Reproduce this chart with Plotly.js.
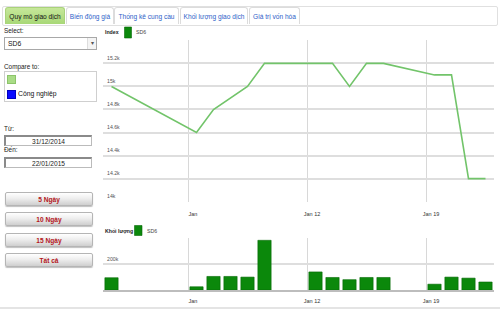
<!DOCTYPE html>
<html>
<head>
<meta charset="utf-8">
<script src="https://cdn.plot.ly/plotly-3.0.1.min.js"></script>
<style>
  html, body { margin:0; padding:0; background:#fff; }
  body { width:500px; height:312px; position:relative; overflow:hidden; font-family:"Liberation Sans", Arial, sans-serif; }
  #chart { position:absolute; left:0; top:0; width:500px; height:312px; }
  .ov { position:absolute; z-index:2; }
  #tabbar { left:2px; top:6px; width:494px; height:18px; border:1px solid #e0e0e0; border-radius:2px; background:#fff; }
  .tab { position:absolute; top:7px; height:17px; line-height:17px; font-size:6.6px; text-align:center; color:#2d62c8;
         border:1px solid #dcdcdc; border-bottom:none; border-radius:3px 3px 0 0; background:#fff; box-sizing:border-box; white-space:nowrap; }
  .tab.active { color:#111; background:linear-gradient(#c6e79a, #a8d877); border-color:#a9d27a; }
  .lbl { font-size:6.4px; color:#222; white-space:nowrap; }
  .box { border:1px solid #a8a8a8; background:#fff; box-sizing:border-box; }
  .datebox { border:1px solid #bbb; border-top:2px solid #8a8a8a; border-left:2px solid #8a8a8a; background:#fff; box-sizing:border-box;
             font-size:6.6px; text-align:center; color:#222; }
  .btn { left:5px; width:88px; height:14px; line-height:14px; border:1px solid #b5b5b5; border-radius:2px; box-sizing:border-box;
         background:linear-gradient(#ffffff, #eeeeee 45%, #cfcfcf); box-shadow:0 1px 1px rgba(0,0,0,0.25);
         text-align:center; font-size:6.6px; font-weight:bold; color:#b3161b; }
  #bottomline { left:0; top:307px; width:500px; height:2px; background:#e4e4e4; }
</style>
</head>
<body>
<div id="chart"></div>

<div class="ov" id="tabbar"></div>
<div class="ov tab active" style="left:5px;width:60px;">Quy mô giao dịch</div>
<div class="ov tab" style="left:66px;width:48px;">Biến động giá</div>
<div class="ov tab" style="left:114px;width:65px;">Thống kê cung cầu</div>
<div class="ov tab" style="left:180px;width:68px;">Khối lượng giao dịch</div>
<div class="ov tab" style="left:249px;width:51px;">Giá trị vốn hóa</div>

<div class="ov lbl" style="left:4px;top:27px;">Select:</div>
<div class="ov box" style="left:4px;top:37px;width:93px;height:13px;">
  <span style="position:absolute;left:3px;top:2px;font-size:6.8px;color:#111;">SD6</span>
  <span style="position:absolute;right:0px;top:0px;width:8px;height:11px;border-left:1px solid #ddd;background:#f4f4f4;font-size:6px;line-height:11px;text-align:center;color:#555;">&#9662;</span>
</div>
<div class="ov lbl" style="left:4px;top:63px;">Compare to:</div>
<div class="ov box" style="left:4px;top:71px;width:93px;height:31px;border-color:#cfcfcf;">
  <div style="position:absolute;left:2px;top:3px;width:7px;height:7px;background:#a9dc86;border:1px solid #8cc46a;"></div>
  <div style="position:absolute;left:2px;top:18px;width:7px;height:7px;background:#0a0aff;border:1px solid #0000c0;"></div>
  <span style="position:absolute;left:13px;top:18px;font-size:6.8px;color:#111;">Công nghiệp</span>
</div>
<div class="ov lbl" style="left:4px;top:125px;">Từ:</div>
<div class="ov datebox" style="left:4px;top:135px;width:88px;height:11px;line-height:9px;">31/12/2014</div>
<div class="ov lbl" style="left:4px;top:146px;">Đến:</div>
<div class="ov datebox" style="left:4px;top:157px;width:88px;height:11px;line-height:9px;">22/01/2015</div>

<div class="ov btn" style="top:192px;">5 Ngày</div>
<div class="ov btn" style="top:212px;">10 Ngày</div>
<div class="ov btn" style="top:233px;">15 Ngày</div>
<div class="ov btn" style="top:253px;">Tất cả</div>

<div class="ov" id="bottomline"></div>

<script>
// ---- data ----
var dates = ['2014-12-31','2015-01-05','2015-01-06','2015-01-07','2015-01-08','2015-01-09',
             '2015-01-12','2015-01-13','2015-01-14','2015-01-15','2015-01-16',
             '2015-01-19','2015-01-20','2015-01-21','2015-01-22'];
var indexValues = [15000,14600,14800,14900,15000,15200,
                   15200,15200,15000,15200,15200,
                   15100,15100,14200,14200];
var volumeValues = [95000,25000,105000,105000,100000,385000,
                    140000,97000,80000,97000,97000,
                    45000,100000,92000,62000];
var xTickVals = ['2015-01-05','2015-01-12','2015-01-19'];
var xTickText = ['Jan','Jan 12','Jan 19'];
var indexTickVals = [14000,14200,14400,14600,14800,15000,15200,15400];
var indexTickText = ['14k','14.2k','14.4k','14.6k','14.8k','15k','15.2k',''];
var volTickVals = [0,200000,400000];
var volTickText = ['','200k',''];
var seriesName = 'SD6';
var indexTitle = 'Index';
var volTitle = 'Khối lượng';

// ---- geometry helpers (page pixels -> paper fractions) ----
var W = 500, H = 312;
function px(x){ return x / W; }
function py(y){ return 1 - y / H; }
var FONT = '"Liberation Sans", Arial, sans-serif';
var DAY = 86400000;

var traces = [
  { type:'scatter', mode:'lines', x:dates, y:indexValues, name:seriesName,
    xperiod:DAY, xperiodalignment:'middle',
    line:{color:'#72c46a', width:1.6}, xaxis:'x', yaxis:'y', hoverinfo:'skip' },
  { type:'bar', x:dates, y:volumeValues, name:seriesName,
    xperiod:DAY, xperiodalignment:'middle',
    marker:{color:'#0b880b', line:{color:'#066a06', width:0.6}}, xaxis:'x2', yaxis:'y2', hoverinfo:'skip' }
];

var xCommon = {
  type:'date', range:['2014-12-31','2015-01-23'], domain:[px(103), px(494)],
  tickmode:'array', tickvals:xTickVals, ticktext:xTickText,
  showgrid:true, gridcolor:'#d8d8d8', gridwidth:1, zeroline:false,
  ticks:'', tickfont:{family:FONT, size:5.5, color:'#333'}, ticklabelshift:5, fixedrange:true
};
var x1 = Object.assign({}, xCommon, {anchor:'y', ticklabelstandoff:7, showline:false});
var x2 = Object.assign({}, xCommon, {anchor:'y2', ticklabelstandoff:5, showline:true, linecolor:'#bdbdbd', linewidth:1.5});

var yCommon = {
  tickmode:'array', ticklabelposition:'inside', ticklabelshift:-5, ticklabelstandoff:1,
  showgrid:true, gridcolor:'#dedede', gridwidth:2, zeroline:false, showline:false,
  ticks:'', tickfont:{family:FONT, size:5.2, color:'#555'}, fixedrange:true
};

var layout = {
  width:W, height:H, margin:{l:0, r:0, t:0, b:0},
  paper_bgcolor:'#ffffff', plot_bgcolor:'#ffffff', showlegend:false, bargap:0.22,
  xaxis:x1, xaxis2:x2,
  yaxis:Object.assign({}, yCommon, { anchor:'x', domain:[py(202), py(40)], range:[13997,15403],
          tickvals:indexTickVals, ticktext:indexTickText }),
  yaxis2:Object.assign({}, yCommon, { anchor:'x2', domain:[py(290), py(238)], range:[0,403000],
          tickvals:volTickVals, ticktext:volTickText }),
  annotations:[
    { xref:'paper', yref:'paper', x:px(103), y:py(32.5), xanchor:'left', yanchor:'middle', showarrow:false,
      text:'<b>'+indexTitle+'</b>', font:{family:FONT, size:5.2, color:'#222'} },
    { xref:'paper', yref:'paper', x:px(134), y:py(32.5), xanchor:'left', yanchor:'middle', showarrow:false,
      text:seriesName, font:{family:FONT, size:5.2, color:'#444'} },
    { xref:'paper', yref:'paper', x:px(103), y:py(230.5), xanchor:'left', yanchor:'middle', showarrow:false,
      text:'<b>'+volTitle+'</b>', font:{family:FONT, size:5.2, color:'#222'} },
    { xref:'paper', yref:'paper', x:px(145), y:py(230.5), xanchor:'left', yanchor:'middle', showarrow:false,
      text:seriesName, font:{family:FONT, size:5.2, color:'#444'} }
  ],
  shapes:[
    { type:'rect', xref:'paper', yref:'paper', x0:px(124.5), x1:px(131.5), y0:py(38), y1:py(27),
      fillcolor:'#0b880b', line:{color:'#066a06', width:0.6} },
    { type:'rect', xref:'paper', yref:'paper', x0:px(134.5), x1:px(142), y0:py(235.5), y1:py(225.5),
      fillcolor:'#0b880b', line:{color:'#066a06', width:0.6} }
  ]
};

Plotly.newPlot('chart', traces, layout, {staticPlot:true, displayModeBar:false});
</script>
</body>
</html>
